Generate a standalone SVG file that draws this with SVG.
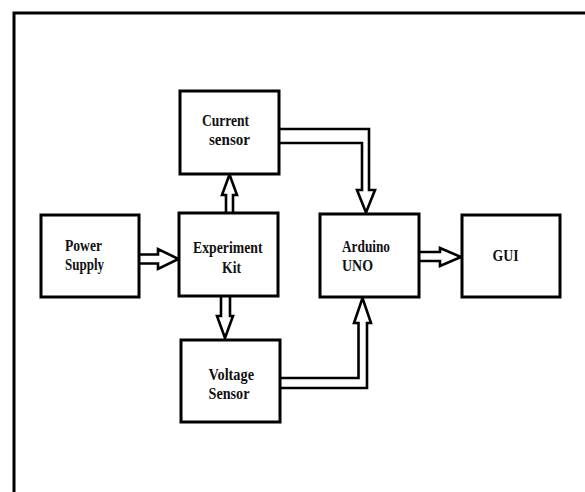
<svg xmlns="http://www.w3.org/2000/svg" width="585" height="492" viewBox="0 0 585 492">
<style>
.box{fill:#fff;stroke:#000;stroke-width:3}
.arr{fill:#fff;stroke:#000;stroke-width:2.6;stroke-linejoin:miter}
.lbl{font-family:"Liberation Serif","Times New Roman",serif;font-weight:bold;font-size:16.5px;fill:#111}
</style>
<rect width="585" height="492" fill="#fff"/>
<path d="M14,492 V13 H585" fill="none" stroke="#000" stroke-width="3"/>
<g id="connectors">
<path class="arr" d="M226,213 V195 H222 L229.5,174.5 L237,195 H233 V213"/>
<path class="arr" d="M221,295 V316 H217 L225,338 L233,316 H230 V295"/>
<path class="arr" d="M139,254.5 H158 V249 L178.5,259 L158,269 V263.5 H139"/>
<path class="arr" d="M419,252 H440 V248 L461,257 L440,266 V261 H419"/>
<path class="arr" d="M279,129 H369 V190 H375 L366,212.5 L357,190 H362 V143 H279"/>
<path class="arr" d="M280,388 H367 V323 H371 L362.5,298 L354,323 H358.5 V378 H280"/>
</g>
<g id="current">
<rect class="box" x="180" y="91" width="99" height="83"/>
<text class="lbl" x="202" y="126" textLength="47" lengthAdjust="spacingAndGlyphs">Current</text>
<text class="lbl" x="209" y="145" textLength="41" lengthAdjust="spacingAndGlyphs">sensor</text>
</g>
<g id="power">
<rect class="box" x="41" y="215" width="98" height="82"/>
<text class="lbl" x="65" y="250.5" textLength="37" lengthAdjust="spacingAndGlyphs">Power</text>
<text class="lbl" x="65" y="269.5" textLength="39" lengthAdjust="spacingAndGlyphs">Supply</text>
</g>
<g id="kit">
<rect class="box" x="179" y="213" width="99" height="83"/>
<text class="lbl" x="193" y="253" textLength="69.5" lengthAdjust="spacingAndGlyphs">Experiment</text>
<text class="lbl" x="222" y="272.5" textLength="19" lengthAdjust="spacingAndGlyphs">Kit</text>
</g>
<g id="arduino">
<rect class="box" x="320" y="214" width="99" height="83"/>
<text class="lbl" x="342" y="251.5" textLength="48" lengthAdjust="spacingAndGlyphs">Arduino</text>
<text class="lbl" x="342" y="270.5" textLength="31" lengthAdjust="spacingAndGlyphs">UNO</text>
</g>
<g id="gui">
<rect class="box" x="462" y="215" width="98" height="82"/>
<text class="lbl" x="492.5" y="261" textLength="26" lengthAdjust="spacingAndGlyphs">GUI</text>
</g>
<g id="voltage">
<rect class="box" x="181" y="340" width="99" height="82"/>
<text class="lbl" x="208.5" y="380" textLength="45.5" lengthAdjust="spacingAndGlyphs">Voltage</text>
<text class="lbl" x="208.5" y="399" textLength="41" lengthAdjust="spacingAndGlyphs">Sensor</text>
</g>
</svg>
